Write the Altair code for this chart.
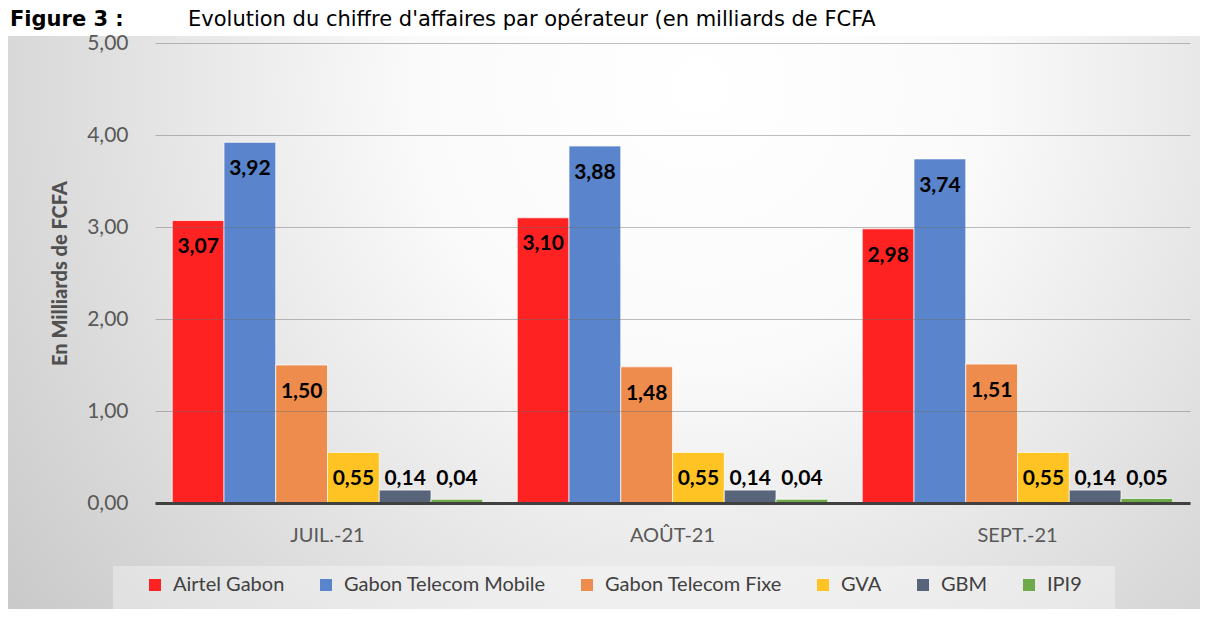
import altair as alt
import pandas as pd

# ---- data ----
months = ["JUIL.-21", "AOÛT-21", "SEPT.-21"]
operators = ["Airtel Gabon", "Gabon Telecom Mobile", "Gabon Telecom Fixe", "GVA", "GBM", "IPI9"]
airtel_gabon = [3.07, 3.10, 2.98]
gabon_telecom_mobile = [3.92, 3.88, 3.74]
gabon_telecom_fixe = [1.50, 1.48, 1.51]
gva = [0.55, 0.55, 0.55]
gbm = [0.14, 0.14, 0.14]
ipi9 = [0.04, 0.04, 0.05]
colors = ["#FF2222", "#5A84CB", "#EE8C4E", "#FFC424", "#58647A", "#6FAA4A"]
y_ticks = [0, 1, 2, 3, 4, 5]
title_bold = "Figure 3 :"
title_rest = "Evolution du chiffre d'affaires par opérateur (en milliards de FCFA"
y_title = "En Milliards de FCFA"

series = [airtel_gabon, gabon_telecom_mobile, gabon_telecom_fixe, gva, gbm, ipi9]
rows = []
for op, vals in zip(operators, series):
    for m, v in zip(months, vals):
        rows.append({"month": m, "operator": op, "value": v})
df = pd.DataFrame(rows)

W, H = 1035, 460
PAD = {"left": 147, "top": 35, "right": 10, "bottom": 106}
FONT = "Lato"

one = pd.DataFrame({"a": [0]})

bg_gradient = {
    "gradient": "radial",
    "x1": 0.58, "y1": 0.3, "r1": 0,
    "x2": 0.58, "y2": 0.3, "r2": 0.8,
    "stops": [
        {"offset": 0, "color": "#ffffff"},
        {"offset": 0.3, "color": "#fafafa"},
        {"offset": 1, "color": "#c2c2c2"},
    ],
}

background = alt.Chart(one).mark_rect(fill=bg_gradient).encode(
    x=alt.value(-PAD["left"]), x2=alt.value(W + PAD["right"]),
    y=alt.value(-7), y2=alt.value(H + PAD["bottom"]),
)

legend_box = alt.Chart(one).mark_rect(fill="#ffffff", fillOpacity=0.35).encode(
    x=alt.value(-42), x2=alt.value(960),
    y=alt.value(523), y2=alt.value(H + PAD["bottom"]),
)

title1 = alt.Chart(one).mark_text(
    font="DejaVu Sans", fontSize=21, fontWeight="bold", align="left",
    baseline="alphabetic", color="#000000",
).encode(x=alt.value(-PAD["left"] + 2), y=alt.value(-17), text=alt.value(title_bold))

title2 = alt.Chart(one).mark_text(
    font="DejaVu Sans", fontSize=21, align="left",
    baseline="alphabetic", color="#000000",
).encode(x=alt.value(33), y=alt.value(-17), text=alt.value(title_rest))

x_axis = alt.Axis(
    title=None, ticks=False, labelPadding=22, labelFont=FONT, labelFontSize=20,
    labelColor="#595959", domainColor="#404040", domainWidth=3, labelAngle=0,
    grid=False, zindex=2,
)
y_axis = alt.Axis(
    values=y_ticks, title=y_title,
    labelExpr="replace(format(datum.value, '.2f'), '.', ',')",
    titleFont=FONT, titleFontSize=20, titleFontWeight=900, titleColor="#505050",
    titlePadding=16, labelFont=FONT, labelFontSize=21, labelColor="#595959",
    labelPadding=27, ticks=False, domain=False, grid=True, gridColor="#6f6f6f",
    gridOpacity=0.45, gridWidth=1.2, zindex=1,
)

x_enc = alt.X(
    "month:N", sort=months,
    scale=alt.Scale(paddingInner=0.1, paddingOuter=0.05),
    axis=x_axis,
)
xoff = alt.XOffset("operator:N", sort=operators, scale=alt.Scale(paddingInner=0, paddingOuter=0))
y_scale = alt.Scale(domain=[0, 5], nice=False)

bars = alt.Chart(df).mark_bar(stroke="#ffffff", strokeWidth=1, strokeOpacity=0.7).encode(
    x=x_enc,
    xOffset=xoff,
    y=alt.Y("value:Q", scale=y_scale, axis=y_axis),
    color=alt.Color(
        "operator:N", sort=operators,
        scale=alt.Scale(domain=operators, range=colors),
        legend=alt.Legend(
            title=None, orient="none", legendX=-10, legendY=532,
            direction="horizontal", columns=6, symbolType="square",
            symbolSize=144, symbolStrokeWidth=0, labelFont=FONT,
            labelFontSize=20, labelColor="#404040", columnPadding=31,
            labelOffset=8, padding=0, labelLimit=0,
        ),
    ),
)

labels = alt.Chart(df).transform_calculate(
    labelY="max(datum.value - 0.29, 0.26)",
    labelText="replace(format(datum.value, '.2f'), '.', ',')",
).mark_text(
    font=FONT, fontSize=21, fontWeight="bold", color="#000000", baseline="middle",
).encode(
    x=x_enc,
    xOffset=xoff,
    y=alt.Y("labelY:Q", scale=y_scale, axis=y_axis),
    text="labelText:N",
)

chart = alt.layer(background, legend_box, title1, title2, bars, labels).properties(
    width=W, height=H,
    autosize=alt.AutoSizeParams(type="none"),
    padding=PAD,
    background="#ffffff",
).configure_view(stroke=None).configure_axisY(titleFontWeight=900)

chart.save("out.html", embed_options={"renderer": "svg", "actions": False})
